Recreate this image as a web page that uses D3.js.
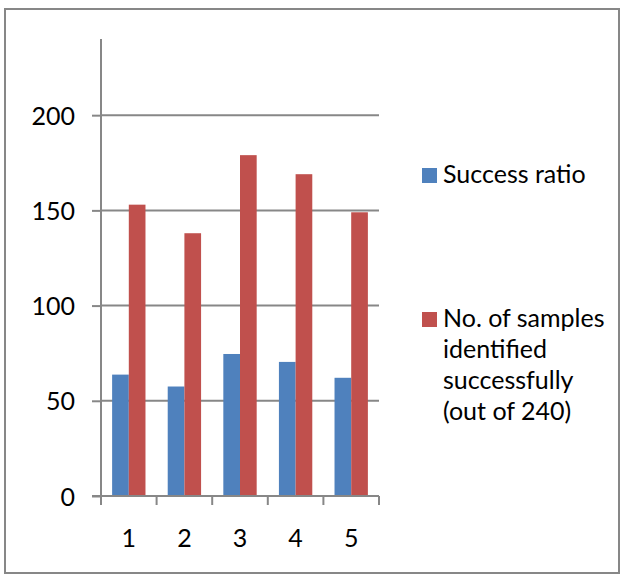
<!DOCTYPE html>
<html>
<head>
<meta charset="utf-8">
<script src="https://cdn.jsdelivr.net/npm/d3@7"></script>
<style>
  html, body { margin: 0; padding: 0; background: #fff; }
  svg { display: block; }
  text { font-family: Lato, "Open Sans", sans-serif; fill: #000; }
</style>
</head>
<body>
<svg id="chart" width="624" height="579"></svg>
<script>
const categories = ["1", "2", "3", "4", "5"];
const seriesNames = ["Success ratio", "No. of samples identified successfully (out of 240)"];
const successRatio = [63.75, 57.5, 74.58, 70.42, 62.08];
const samplesIdentified = [153, 138, 179, 169, 149];
const yTicks = [0, 50, 100, 150, 200];
const legendLines = [["Success ratio"], ["No. of samples", "identified", "successfully", "(out of 240)"]];
const colors = ["#4F81BD", "#C0504D"];

const svg = d3.select("#chart");
const W = 624, H = 579;
const plot = { left: 101, right: 379, top: 39, bottom: 496 };
const gridColor = "#878787";
const fontSize = 25;

// outer border
svg.append("rect")
  .attr("x", 5).attr("y", 9).attr("width", 614).attr("height", 564)
  .attr("fill", "#fff").attr("stroke", gridColor).attr("stroke-width", 2);

const x0 = d3.scaleBand().domain(categories)
  .range([plot.left, plot.right]).paddingInner(0.4).paddingOuter(0.2);
const x1 = d3.scaleBand().domain(seriesNames).range([0, x0.bandwidth()]);
const y = d3.scaleLinear().domain([0, 240]).range([plot.bottom, plot.top]);

// gridlines
svg.append("g").selectAll("line").data(yTicks.filter(d => d > 0)).join("line")
  .attr("x1", plot.left).attr("x2", plot.right)
  .attr("y1", d => y(d)).attr("y2", d => y(d))
  .attr("stroke", gridColor).attr("stroke-width", 2);

// y axis
const yAxis = svg.append("g").attr("transform", `translate(${plot.left},0)`)
  .call(d3.axisLeft(y).tickValues(yTicks).tickSize(9).tickPadding(17).tickFormat(d3.format("d")));
yAxis.select(".domain").attr("stroke", gridColor).attr("stroke-width", 2)
  .attr("d", `M0,${plot.top}V${plot.bottom}`);
yAxis.selectAll(".tick line").attr("stroke", gridColor).attr("stroke-width", 2);
yAxis.selectAll(".tick text").style("font-size", fontSize + "px")
  .attr("font-family", null).attr("dy", "0.36em");
yAxis.attr("font-family", null).attr("font-size", null);

// bars
const data = categories.map((c, i) => ({ cat: c, vals: [successRatio[i], samplesIdentified[i]] }));
const groups = svg.append("g").selectAll("g").data(data).join("g")
  .attr("transform", d => `translate(${x0(d.cat)},0)`);
groups.selectAll("rect").data(d => d.vals.map((v, j) => ({ v, s: seriesNames[j], j }))).join("rect")
  .attr("x", d => x1(d.s)).attr("width", x1.bandwidth())
  .attr("y", d => y(d.v)).attr("height", d => y(0) - y(d.v))
  .attr("fill", d => colors[d.j]);

// x axis
const xg = svg.append("g");
xg.append("line").attr("x1", plot.left - 9).attr("x2", plot.right)
  .attr("y1", y(0)).attr("y2", y(0)).attr("stroke", gridColor).attr("stroke-width", 2);
const boundaries = d3.range(categories.length + 1).map(i => x0.range()[0] + i * x0.step());
xg.selectAll("line.tk").data(boundaries).join("line").attr("class", "tk")
  .attr("x1", d => d).attr("x2", d => d)
  .attr("y1", y(0)).attr("y2", y(0) + 9)
  .attr("stroke", gridColor).attr("stroke-width", 2);
xg.selectAll("text").data(categories).join("text")
  .attr("x", d => x0(d) + x0.bandwidth() / 2).attr("y", 547)
  .attr("text-anchor", "middle").style("font-size", fontSize + "px").text(d => d);

// legend
const legendY = [183, 327];
const leg = svg.append("g");
legendLines.forEach((lines, i) => {
  leg.append("rect").attr("x", 422).attr("y", legendY[i] - 15)
    .attr("width", 15).attr("height", 15).attr("fill", colors[i]);
  const t = leg.append("text").attr("x", 443).attr("y", legendY[i]).style("font-size", fontSize + "px");
  lines.forEach((ln, k) => {
    t.append("tspan").attr("x", 443).attr("dy", k === 0 ? 0 : 31).text(ln);
  });
});
</script>
</body>
</html>
